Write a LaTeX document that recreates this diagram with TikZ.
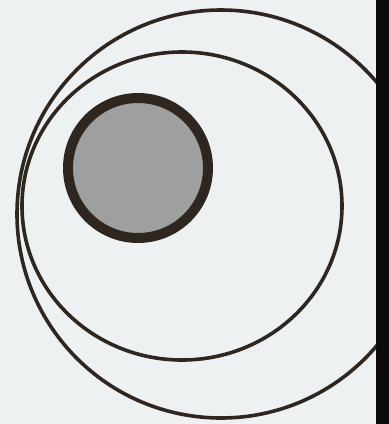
\documentclass[tikz,border=0pt]{standalone}
\definecolor{paper}{RGB}{238,241,241}
\definecolor{ink}{RGB}{48,38,32}
\definecolor{disc}{RGB}{158,160,160}
\definecolor{edge}{RGB}{12,10,10}
\tikzset{ring/.style={draw=ink,line width=3.6pt},
  core/.style={draw=ink,fill=disc,line width=10pt}}
\begin{document}
\begin{tikzpicture}[x=1pt,y=-1pt]
\path[fill=paper] (0,0) rectangle (377,424);
\path[fill=edge] (376,0) rectangle (389,424);
\useasboundingbox (0,0) rectangle (389,424);
\begin{scope}
\clip (0,0) rectangle (376,424);
\draw[ring] (221,214) circle [radius=204];
\draw[ring] (182,206) ellipse [x radius=160,y radius=154];
\draw[core] (138,168) circle [radius=70];
\end{scope}
\end{tikzpicture}
\end{document}
